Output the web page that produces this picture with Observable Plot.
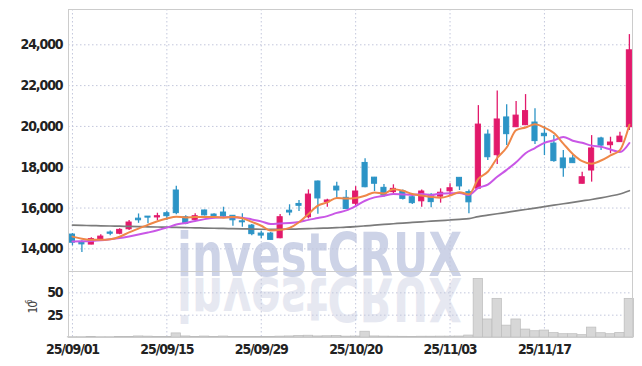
<!DOCTYPE html>
<html>
<head>
<meta charset="utf-8">
<script src="https://cdn.jsdelivr.net/npm/d3@7"></script>
<script src="https://cdn.jsdelivr.net/npm/@observablehq/plot@0.6"></script>
<style>
  html, body { margin: 0; padding: 0; background: #fff; }
  #wrap { position: relative; width: 642px; height: 366px; overflow: hidden; }
  #wm { position: absolute; left: 0; top: 0; }
  #chart { position: absolute; left: 0; top: 0; }
  #chart svg { display: block; }
</style>
</head>
<body>
<div id="wrap">
  <svg id="wm" width="642" height="366">
    <text x="177" y="276" textLength="285" lengthAdjust="spacingAndGlyphs" font-family="DejaVu Sans" font-weight="bold" font-size="60" fill="#cdd3e7">investCRUX</text>
    <text x="177" y="276" transform="translate(0,554) scale(1,-1)" textLength="285" lengthAdjust="spacingAndGlyphs" font-family="DejaVu Sans" font-weight="bold" font-size="60" fill="#e6e8f1">investCRUX</text>
  </svg>
  <div id="chart"></div>
</div>
<script>
// ---- data ----
const dates = [
  "2025-09-01","2025-09-02","2025-09-03","2025-09-04","2025-09-05","2025-09-08","2025-09-09","2025-09-10","2025-09-11","2025-09-12",
  "2025-09-15","2025-09-16","2025-09-17","2025-09-18","2025-09-19","2025-09-22","2025-09-23","2025-09-24","2025-09-25","2025-09-26",
  "2025-09-29","2025-09-30","2025-10-01","2025-10-02","2025-10-10","2025-10-13","2025-10-14","2025-10-15","2025-10-16","2025-10-17",
  "2025-10-20","2025-10-21","2025-10-22","2025-10-23","2025-10-24","2025-10-27","2025-10-28","2025-10-29","2025-10-30","2025-10-31",
  "2025-11-03","2025-11-04","2025-11-05","2025-11-06","2025-11-07","2025-11-10","2025-11-11","2025-11-12","2025-11-13","2025-11-14",
  "2025-11-17","2025-11-18","2025-11-19","2025-11-20","2025-11-21","2025-11-24","2025-11-25","2025-11-26","2025-11-27","2025-11-28"
];
const open = [14700,14300,14210,14460,14800,14740,14960,15480,15580,15540,
  15745,16860,15550,15420,15880,15680,15780,15620,15350,15140,
  14750,14750,14520,15870,16200,15550,17300,16290,17050,16500,
  16210,18210,17490,16990,16780,16810,16530,16330,16650,16560,
  16820,17480,16780,16950,19600,18590,20440,19960,20060,20190,
  19640,19160,18430,18430,17190,17840,19410,19080,19230,19960];
const high = [14750,14400,14540,14690,14880,14980,15390,15710,15590,15745,
  15840,17070,15620,15720,15900,15720,16040,15640,15720,15190,
  14860,14800,15680,16160,16370,16890,17320,16430,17260,16860,
  17050,18410,17500,17150,17140,16890,16560,16890,16700,16940,
  17190,17480,16890,21020,19830,21730,21060,21220,21560,20860,
  20000,19550,18820,18570,17750,19550,19470,19470,19720,24500];
const low = [14150,13820,14200,14440,14640,14690,14900,15250,15230,15390,
  15390,15670,15180,15390,15610,15470,15550,15110,15060,14640,
  14490,14430,14490,15620,15830,15470,15700,16040,16450,15940,
  16070,16990,16810,16530,16700,16400,16170,16040,16010,16240,
  16610,16860,15720,16940,18330,18130,19060,19950,20040,19110,
  18570,18250,17510,18180,17180,17270,18820,18660,19220,19800];
const close = [14300,14220,14480,14600,14740,14930,15290,15400,15530,15600,
  15600,15750,15230,15600,15640,15590,15590,15400,15300,14720,
  14650,14440,15550,15780,16110,16660,16470,16370,16860,15950,
  16810,17020,17190,16620,16940,16450,16240,16810,16290,16750,
  16970,17060,16280,20090,18490,20340,19620,20530,20750,19280,
  19520,18300,17950,18200,17510,18920,19060,19210,19500,23730];
const ma5 = [14600,14500,14440,14440,14468,14594,14808,14992,15178,15350,
  15484,15576,15542,15556,15564,15562,15530,15564,15504,15320,
  15132,14902,14932,15028,15306,15708,16114,16278,16494,16462,
  16492,16602,16766,16718,16916,16844,16688,16612,16546,16508,
  16612,16776,16670,17430,17778,18452,18964,19814,19946,20104,
  19940,19676,19160,18650,18296,18176,18328,18580,18840,20084];
const ma10 = [14360,14370,14390,14420,14470,14530,14610,14700,14800,14909,
  15039,15192,15267,15367,15457,15523,15553,15553,15530,15442,
  15347,15216,15248,15266,15313,15420,15508,15605,15761,15884,
  16100,16358,16522,16606,16689,16668,16645,16689,16632,16712,
  16728,16732,16641,16988,17143,17532,17870,18242,18688,18941,
  19196,19320,19487,19298,19200,19058,19002,18870,18745,19190];
const ma60 = [15160,15150,15140,15130,15120,15110,15100,15090,15080,15070,
  15060,15050,15040,15030,15020,15010,15000,14990,14980,14970,
  14960,14955,14955,14965,14975,14990,15005,15020,15040,15060,
  15090,15125,15160,15195,15230,15265,15295,15325,15355,15385,
  15415,15445,15480,15580,15650,15720,15790,15860,15930,16000,
  16070,16140,16210,16280,16350,16420,16500,16590,16690,16850];
const volume = [0.3,0.3,0.4,0.3,0.3,0.4,0.6,1.2,1.0,0.5,
  0.6,4.6,1.2,0.6,1.1,0.5,1.1,0.5,0.4,0.5,
  0.4,0.6,1.0,1.2,1.8,2.0,1.2,1.4,1.8,1.0,
  1.1,6.5,1.2,1.0,0.9,0.8,0.6,0.9,0.9,1.0,
  1.0,1.1,2.2,65.6,20.2,43.3,13.3,20.2,8.9,7.0,
  7.8,4.9,3.7,3.7,2.6,11.1,4.8,3.7,5.2,43.3];
const tickDates = ["2025-09-01","2025-09-15","2025-09-29","2025-10-20","2025-11-03","2025-11-17"];
const tickLabels = ["25/09/01","25/09/15","25/09/29","25/10/20","25/11/03","25/11/17"];
const priceTicks = [14000,16000,18000,20000,22000,24000];
const volumeTicks = [25,50];
const volumeUnitBase = "10";
const volumeUnitExp = "6";

(function () {
  const RED = "#e2196b", BLUE = "#2c94c6";
  const rows = dates.map((d, i) => ({
    i, date: d, open: open[i], high: high[i], low: low[i], close: close[i],
    ma5: ma5[i], ma10: ma10[i], ma60: ma60[i], vol: volume[i],
    up: close[i] >= open[i]
  }));
  const tickIdx = tickDates.map(d => dates.indexOf(d));
  const xDomain = [-0.42, dates.length - 1 + 0.33];
  const GRID = "#c3c7dc";
  const DASH = "1.5,2.5";
  const font = {
    fontFamily: "'DejaVu Sans Condensed', 'DejaVu Sans', sans-serif",
    fontStretch: "condensed",
    fontSize: "14px",
    fontWeight: "600",
    letterSpacing: "-1.1px",
    color: "#222",
    background: "transparent",
    overflow: "visible"
  };

  const pricePlot = Plot.plot({
    width: 642, height: 271,
    marginTop: 9, marginBottom: 0, marginLeft: 68, marginRight: 10,
    style: font,
    x: {domain: xDomain, axis: null},
    y: {domain: [12890, 25730], ticks: priceTicks, tickFormat: d3.format(","), tickSize: 0, tickPadding: 6, label: null},
    marks: [
      Plot.ruleY(priceTicks, {stroke: GRID, strokeDasharray: DASH}),
      Plot.ruleX(tickIdx, {stroke: GRID, strokeDasharray: DASH}),
      Plot.ruleX(rows, {x: "i", y1: "low", y2: "high", stroke: d => d.up ? RED : BLUE, strokeWidth: 1.3}),
      Plot.rect(rows, {x1: d => d.i - 0.27, x2: d => d.i + 0.27, y1: "open", y2: "close",
        fill: d => d.up ? RED : BLUE, stroke: d => d.up ? RED : BLUE, strokeWidth: 1}),
      Plot.line(rows, {x: "i", y: "ma60", stroke: "#7b7b7b", strokeWidth: 1.7, curve: "monotone-x"}),
      Plot.line(rows, {x: "i", y: "ma10", stroke: "#c957e6", strokeWidth: 2, curve: "monotone-x"}),
      Plot.line(rows, {x: "i", y: "ma5", stroke: "#ef8748", strokeWidth: 2, curve: "monotone-x"}),
      Plot.frame({stroke: "#cccccc"})
    ]
  });

  const volumePlot = Plot.plot({
    width: 642, height: 95,
    marginTop: 0, marginBottom: 29, marginLeft: 68, marginRight: 10,
    style: font,
    x: {domain: xDomain, ticks: tickIdx, tickFormat: i => tickLabels[tickIdx.indexOf(i)], tickSize: 0, tickPadding: 7, label: null},
    y: {domain: [0, 73.9], ticks: volumeTicks, tickSize: 0, tickPadding: 6, label: null},
    marks: [
      Plot.ruleY(volumeTicks, {stroke: GRID, strokeDasharray: DASH}),
      Plot.ruleX(tickIdx, {stroke: GRID, strokeDasharray: DASH}),
      Plot.rectY(rows, {x1: d => d.i - 0.5, x2: d => d.i + 0.5, y: "vol", fill: "#d7d7d7", stroke: "#bcbcbc", strokeWidth: 0.7}),
      Plot.text([volumeUnitBase], {frameAnchor: "left", dx: -35, dy: 9, rotate: -90, fontSize: 12, fontWeight: 400, fill: "#444", fontFamily: "'DejaVu Sans', sans-serif"}),
      Plot.text([volumeUnitExp], {frameAnchor: "left", dx: -39, dy: -0.5, rotate: -90, fontSize: 8, fontWeight: 400, fill: "#444", fontFamily: "'DejaVu Sans', sans-serif"}),
      Plot.frame({stroke: "#cccccc"})
    ]
  });

  const chart = document.getElementById("chart");
  chart.appendChild(pricePlot);
  chart.appendChild(volumePlot);
})();
</script>
</body>
</html>
